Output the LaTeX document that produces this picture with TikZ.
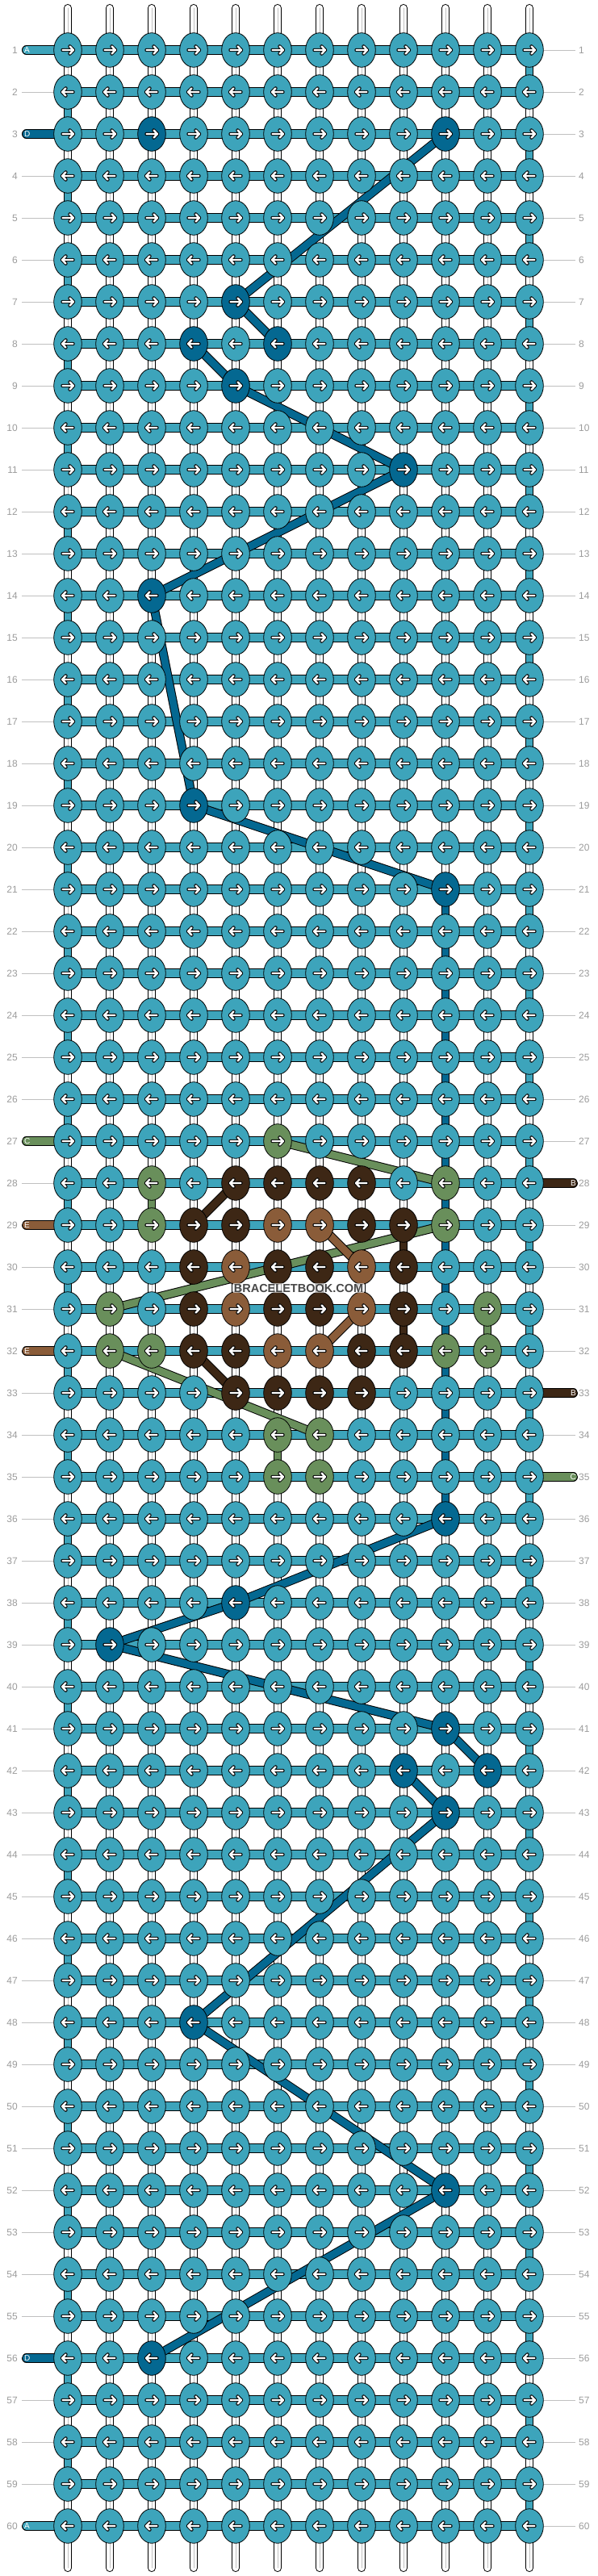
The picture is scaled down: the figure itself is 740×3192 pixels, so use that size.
\documentclass[tikz,border=0pt]{standalone}
\usepackage{fontspec}
\setmainfont{Liberation Sans}
\usetikzlibrary{shapes.geometric}

\definecolor{threadA}{RGB}{61,164,187}
\definecolor{threadB}{RGB}{61,39,21}
\definecolor{threadC}{RGB}{105,143,91}
\definecolor{threadD}{RGB}{4,104,145}
\definecolor{threadE}{RGB}{138,92,57}
\definecolor{rowgrey}{RGB}{155,155,155}
\definecolor{guidegrey}{RGB}{192,192,192}

\pgfdeclarelayer{below}
\pgfsetlayers{below,main}

\newcommand\knotcolor[3]{\expandafter\gdef\csname kc-#1-#2\endcsname{#3}}
\foreach \rw/\cl in {3/2,3/9,7/4,8/3,8/5,9/4,11/8,14/2,19/3,21/9,36/9,38/4,39/1,41/9,42/8,42/10,43/9,48/3,52/9,56/2}{\knotcolor{\rw}{\cl}{threadD}}
\foreach \rw/\cl in {27/5,28/2,28/9,29/2,29/9,31/1,31/10,32/1,32/2,32/9,32/10,34/5,34/6,35/5,35/6}{\knotcolor{\rw}{\cl}{threadC}}
\foreach \rw/\cl in {28/4,28/5,28/6,28/7,29/3,29/4,29/7,29/8,30/3,30/5,30/6,30/8,31/3,31/5,31/6,31/8,32/3,32/4,32/7,32/8,33/4,33/5,33/6,33/7}{\knotcolor{\rw}{\cl}{threadB}}
\foreach \rw/\cl in {29/5,29/6,30/4,30/7,31/4,31/7,32/5,32/6}{\knotcolor{\rw}{\cl}{threadE}}

\tikzset{
  knot/.style={ellipse, draw=black, line width=0.8pt, minimum width=34.6pt, minimum height=42.6pt, inner sep=0pt},
  arrowstroke/.style={draw=black, line width=4.4pt, line cap=round, line join=round, postaction={draw=white, line width=2.4pt}},
  arrowR/.pic={\path[arrowstroke] (-6.5,0) -- (7,0) (2.5,-4.6) -- (7,0) -- (2.5,4.6);},
  arrowL/.pic={\path[arrowstroke] (6.5,0) -- (-7,0) (-2.5,-4.6) -- (-7,0) -- (-2.5,4.6);},
  basestring/.style={draw=black, line width=10pt, line cap=round, postaction={draw=white, line width=8pt}, postaction={draw=guidegrey, line width=0.7pt}},
  strand/.style={draw=black, line width=10.4pt, postaction={draw=#1, line width=8.4pt}},
  rowbar/.style={draw=black, line width=11.4pt, postaction={draw=#1, line width=9.4pt}},
  tagbar/.style={rowbar=#1, line cap=round},
  thread/.style={draw=black, line width=11pt, postaction={draw=#1, line width=9pt}},
  guide/.style={draw=guidegrey, line width=0.9pt},
  rownum/.style={text=rowgrey, font=\fontsize{12}{12}\selectfont, inner sep=0pt},
  tagletter/.style={text=white, font=\fontsize{10}{10}\selectfont, inner sep=0pt},
  watermark/.style={fill=white, fill opacity=0.6, text opacity=1, text=black!72, font=\fontsize{14.5}{14.5}\bfseries\selectfont, inner sep=1pt}
}

\begin{document}
\begin{tikzpicture}[x=1pt,y=-1pt]
\useasboundingbox (0,0) rectangle (740,3192);

\foreach \rw in {1,...,60}
  \foreach \cl in {0,...,11}{
    \ifcsname kc-\rw-\cl\endcsname
      \edef\kcol{\csname kc-\rw-\cl\endcsname}
    \else
      \def\kcol{threadA}
    \fi
    \node[knot, fill=\kcol] (n-\rw-\cl) at ({84+52*\cl},{10+52*\rw}) {};
    \ifodd\rw\relax \pic at (n-\rw-\cl) {arrowR}; \else \pic at (n-\rw-\cl) {arrowL}; \fi
  }

\begin{pgfonlayer}{below}
  \foreach \rw in {1,...,60}{
    \draw[guide] (27,{10+52*\rw}) -- (n-\rw-0.center);
    \draw[guide] (n-\rw-11.center) -- (713,{10+52*\rw});
  }
  \foreach \cl in {0,...,11}
    \draw[basestring] ({84+52*\cl},10) -- ({84+52*\cl},3182);

  \foreach \rw [evaluate=\rw as \nx using int(\rw+1)] in {2,4,...,58}
    \draw[strand=threadA] (n-\rw-0.center) -- (n-\nx-0.center);
  \foreach \rw [evaluate=\rw as \nx using int(\rw+1)] in {1,3,...,59}
    \draw[strand=threadA] (n-\rw-11.center) -- (n-\nx-11.center);
  \foreach \rw [evaluate=\rw as \nx using int(\rw+1)] in {21,...,35}
    \draw[strand=threadD] (n-\rw-9.center) -- (n-\nx-9.center);
  \draw[strand=threadC] (n-28-2.center) -- (n-29-2.center);
  \draw[strand=threadB] (n-30-3.center) -- (n-31-3.center);
  \draw[strand=threadB] (n-29-8.center) -- (n-30-8.center);
  \draw[strand=threadB] (n-31-8.center) -- (n-32-8.center);
  \draw[strand=threadC] (n-31-10.center) -- (n-32-10.center);
  \draw[strand=threadC] (n-34-5.center) -- (n-35-5.center);

  \foreach \rw in {1,...,60}
    \draw[rowbar=threadA] (n-\rw-0.center) -- (n-\rw-11.center);

  \foreach \rw/\tg/\tc in {1/A/threadA,3/D/threadD,27/C/threadC,29/E/threadE,32/E/threadE,56/D/threadD,60/A/threadA}{
    \draw[tagbar=\tc] (32.7,{10+52*\rw}) -- (n-\rw-0.center);
    \node[tagletter, anchor=west] (tag-l-\rw) at (30,{10+52*\rw}) {\tg};
  }
  \foreach \rw/\tg/\tc in {28/B/threadB,33/B/threadB,35/C/threadC}{
    \draw[tagbar=\tc] (n-\rw-11.center) -- (710.3,{10+52*\rw});
    \node[tagletter, anchor=east] (tag-r-\rw) at (714,{10+52*\rw}) {\tg};
  }

  \draw[thread=threadD] (n-3-9.center) -- (n-7-4.center);
  \draw[thread=threadD] (n-7-4.center) -- (n-8-5.center);
  \draw[thread=threadD] (n-8-3.center) -- (n-9-4.center);
  \draw[thread=threadD] (n-9-4.center) -- (n-11-8.center);
  \draw[thread=threadD] (n-11-8.center) -- (n-14-2.center);
  \draw[thread=threadD] (n-14-2.center) -- (n-19-3.center);
  \draw[thread=threadD] (n-19-3.center) -- (n-21-9.center);
  \draw[thread=threadD] (n-36-9.center) -- (n-38-4.center);
  \draw[thread=threadD] (n-38-4.center) -- (n-39-1.center);
  \draw[thread=threadD] (n-39-1.center) -- (n-41-9.center);
  \draw[thread=threadD] (n-41-9.center) -- (n-42-10.center);
  \draw[thread=threadD] (n-42-8.center) -- (n-43-9.center);
  \draw[thread=threadD] (n-43-9.center) -- (n-48-3.center);
  \draw[thread=threadD] (n-48-3.center) -- (n-52-9.center);
  \draw[thread=threadD] (n-52-9.center) -- (n-56-2.center);

  \draw[thread=threadC] (n-27-5.center) -- (n-28-9.center);
  \draw[thread=threadC] (n-29-9.center) -- (n-31-1.center);
  \draw[thread=threadC] (n-32-1.center) -- (n-34-6.center);
  \draw[thread=threadB] (n-28-4.center) -- (n-29-3.center);
  \draw[thread=threadB] (n-32-3.center) -- (n-33-4.center);
  \draw[thread=threadE] (n-29-6.center) -- (n-30-7.center);
  \draw[thread=threadE] (n-31-7.center) -- (n-32-6.center);
\end{pgfonlayer}

\foreach \rw in {1,...,60}{
  \node[rownum, anchor=east] (num-l-\rw) at (22,{10+52*\rw}) {\rw};
  \node[rownum, anchor=west] (num-r-\rw) at (717,{10+52*\rw}) {\rw};
}

\node[watermark] (mark) at (370,1596) {BRACELETBOOK.COM};
\end{tikzpicture}
\end{document}
